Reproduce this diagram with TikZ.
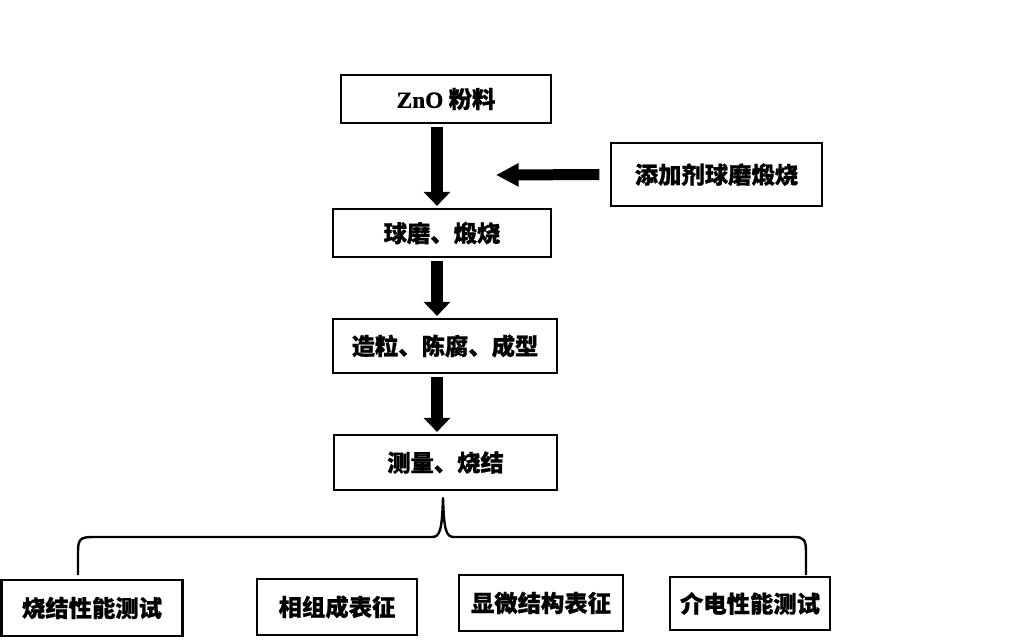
\documentclass[tikz,border=0pt]{standalone}
\usepackage{fontspec}
\newfontfamily\cjk{Noto Sans CJK SC}[BoldFeatures={FakeBold=0.8}]
\newfontfamily\latin{Liberation Serif}[BoldFeatures={FakeBold=0.8}]
\usetikzlibrary{arrows.meta}

\tikzset{
  stepbox/.style={draw, line width=1.6pt, inner sep=0pt,
    font=\cjk\bfseries\fontsize{17.5}{20}\selectfont},
  flow/.style={line width=9pt, -{Triangle[length=10.5pt,width=19.5pt]},
    shorten <=2.25pt, shorten >=1.5pt},
  feed/.style={line width=8.25pt, -{Triangle[length=17pt,width=16.5pt]},
    shorten <=8pt},
  bracket/.style={line width=1.8pt, line join=round}
}

\begin{document}
\begin{tikzpicture}[x=0.75pt,y=-0.75pt]
\useasboundingbox (0,0) rectangle (1032,642);
\coordinate (axis) at (437,0);
\node[stepbox, minimum width=157.5pt, minimum height=36pt] (zno) at (446,99) {{\latin\bfseries ZnO} 粉料};
\node[stepbox, minimum width=163.5pt, minimum height=36pt] (mill) at (442,233) {球磨、煅烧};
\node[stepbox, minimum width=158.25pt, minimum height=47.25pt] (additive) at (716.5,174.5) {添加剂球磨煅烧};
\node[stepbox, minimum width=168pt, minimum height=40.5pt] (form) at (445,346) {造粒、陈腐、成型};
\node[stepbox, minimum width=167.25pt, minimum height=41.25pt] (measure) at (445.5,462.5) {测量、烧结};
\node[stepbox, minimum width=135.75pt, minimum height=42pt] (sinter) at (92,608) {烧结性能测试};
\node[stepbox, minimum width=120pt, minimum height=42pt] (phase) at (337,607) {相组成表征};
\node[stepbox, minimum width=123pt, minimum height=42pt] (micro) at (541,603) {显微结构表征};
\node[stepbox, minimum width=120pt, minimum height=39.75pt] (dielec) at (750,603.5) {介电性能测试};
\coordinate (addtip) at (496,175);

\draw[flow] (zno.south -| axis) -- (mill.north -| axis);
\draw[flow] (mill.south -| axis) -- (form.north -| axis);
\draw[flow] (form.south -| axis) -- (measure.north -| axis);
\draw[feed] (additive.west) -- (addtip);

\draw[bracket] (78,575) -- (78,552) .. controls (78,540) and (80,537) .. (92,537)
  -- (432,537) .. controls (440,537) and (442,530) .. (443,498)
  .. controls (444,530) and (446,537) .. (454,537)
  -- (794,537) .. controls (804,537) and (806,540) .. (806,552) -- (806,575);
\end{tikzpicture}
\end{document}
